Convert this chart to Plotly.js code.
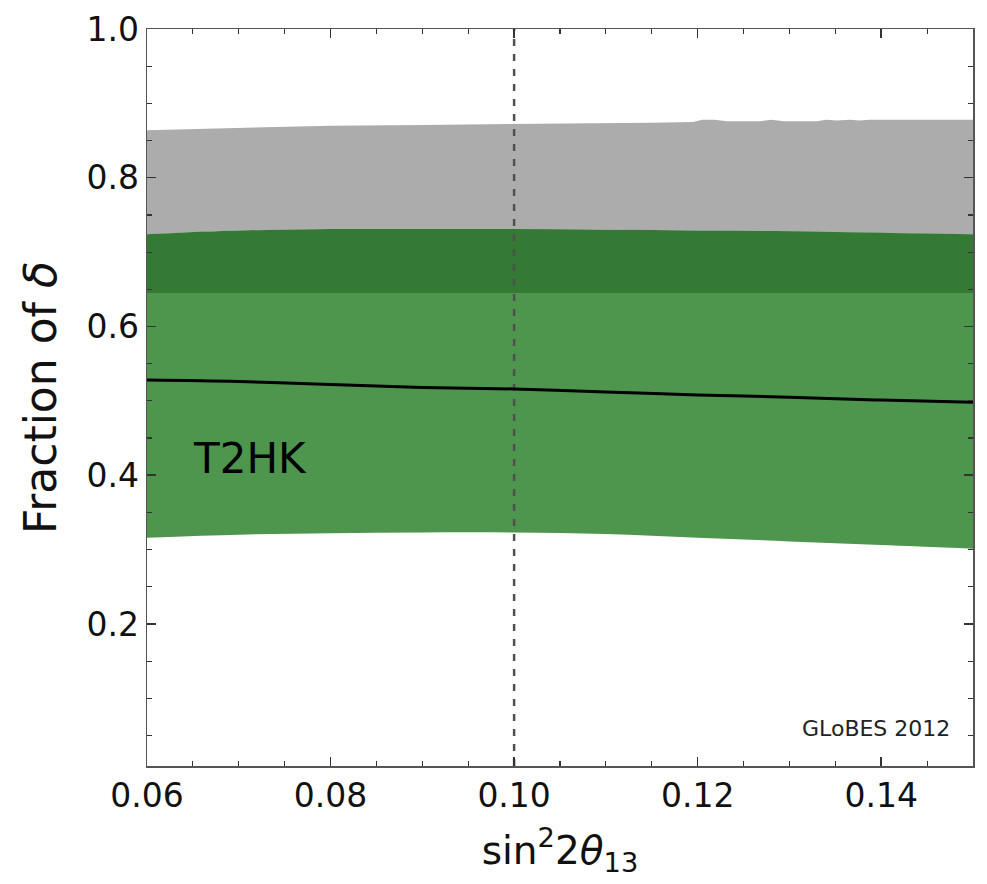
<!DOCTYPE html>
<html>
<head>
<meta charset="utf-8">
<script src="https://cdn.plot.ly/plotly-3.0.1.min.js"></script>
<style>html,body{margin:0;padding:0;background:#fff;}</style>
</head>
<body>
<div id="chart" style="width:987px;height:884px;"></div>
<script>
// sin^2 2theta13 grid
const xGrid = [0.06, 0.07, 0.08, 0.09, 0.10, 0.11, 0.12, 0.13, 0.14, 0.15];
// lower edge of the light green band
const lightBottom = [0.316, 0.320, 0.322, 0.323, 0.323, 0.321, 0.316, 0.311, 0.306, 0.301];
// upper edge of the light green band
const lightTop = [0.645, 0.645, 0.645, 0.645, 0.645, 0.645, 0.645, 0.645, 0.645, 0.645];
// upper edge of the dark green band
const darkTop = [0.724, 0.729, 0.731, 0.731, 0.731, 0.730, 0.729, 0.728, 0.726, 0.724];
// upper edge of the gray band (with its small wiggles)
const grayX = [0.06, 0.07, 0.08, 0.09, 0.10, 0.11, 0.115, 0.1195, 0.1205, 0.1218, 0.1232, 0.1268, 0.1280, 0.1294, 0.1330, 0.1340, 0.1352, 0.1366, 0.1376, 0.1388, 0.1400, 0.1410, 0.1422, 0.15];
const grayTop = [0.864, 0.867, 0.870, 0.871, 0.872, 0.873, 0.874, 0.875, 0.878, 0.878, 0.876, 0.876, 0.878, 0.876, 0.876, 0.878, 0.877, 0.878, 0.877, 0.878, 0.878, 0.879, 0.878, 0.878];
// central black curve
const centralLine = [0.528, 0.526, 0.522, 0.518, 0.516, 0.512, 0.508, 0.505, 0.501, 0.498];
// reference value of sin^2 2theta13
const refX = 0.10;
const xTicks = [0.06, 0.08, 0.10, 0.12, 0.14];
const yTicks = [0.2, 0.4, 0.6, 0.8, 1.0];
const xRange = [0.06, 0.15];
const yRange = [0.009, 1.0];
const labelText = "T2HK";
const labelPos = [0.0712, 0.422];
const creditText = "GLoBES 2012";
const creditPos = [0.1394, 0.060];

const FONT = "DejaVu Sans, Arial, sans-serif";

const grayPolyX = grayX.concat(xGrid.slice().reverse());
const grayPolyY = grayTop.concat(darkTop.slice().reverse());

const traces = [
  {x: grayPolyX, y: grayPolyY, type: 'scatter', mode: 'lines', fill: 'toself',
   fillcolor: 'rgb(172,172,172)', line: {width: 0, color: 'rgba(0,0,0,0)'},
   hoverinfo: 'skip', showlegend: false},
  {x: xGrid, y: lightBottom, type: 'scatter', mode: 'lines',
   line: {width: 0, color: 'rgba(0,0,0,0)', shape: 'spline'}, hoverinfo: 'skip', showlegend: false},
  {x: xGrid, y: lightTop, type: 'scatter', mode: 'lines', fill: 'tonexty',
   fillcolor: 'rgb(78,149,78)', line: {width: 0, color: 'rgba(0,0,0,0)'}, hoverinfo: 'skip', showlegend: false},
  {x: xGrid, y: darkTop, type: 'scatter', mode: 'lines', fill: 'tonexty',
   fillcolor: 'rgb(52,122,52)', line: {width: 0, color: 'rgba(0,0,0,0)', shape: 'spline'}, hoverinfo: 'skip', showlegend: false},
  {x: [refX, refX], y: yRange, type: 'scatter', mode: 'lines',
   line: {width: 2.5, color: 'rgb(80,80,80)', dash: '7px,8px'}, hoverinfo: 'skip', showlegend: false},
  {x: xGrid, y: centralLine, type: 'scatter', mode: 'lines', line: {width: 3, color: '#000', shape: 'spline'},
   hoverinfo: 'skip', showlegend: false}
];

const axisCommon = {
  showline: true, mirror: 'allticks', linecolor: '#555', linewidth: 1.5,
  ticks: 'inside', ticklen: 9, tickwidth: 1.5, tickcolor: '#333',
  showgrid: false, zeroline: false,
  tickfont: {family: FONT, size: 33, color: '#111'}
};

const layout = {
  width: 987, height: 884,
  margin: {l: 147, r: 14, t: 29, b: 118},
  paper_bgcolor: '#fff', plot_bgcolor: '#fff',
  xaxis: Object.assign({}, axisCommon, {
    range: xRange, tickvals: xTicks, tickformat: '.2f',
    minor: {tick0: 0.06, dtick: 0.005, ticks: 'inside', ticklen: 5, tickwidth: 1.2, tickcolor: '#333', showgrid: false},
    title: {text: 'sin<sup>2</sup>2<i>θ</i><sub>13</sub>', font: {family: FONT, size: 39, color: '#111'}, standoff: 22}
  }),
  yaxis: Object.assign({}, axisCommon, {
    range: yRange, tickvals: yTicks, tickformat: '.1f',
    minor: {tick0: 0, dtick: 0.05, ticks: 'inside', ticklen: 5, tickwidth: 1.2, tickcolor: '#333', showgrid: false},
    title: {text: 'Fraction of <i>δ</i>', font: {family: FONT, size: 44, color: '#111'}, standoff: 16}
  }),
  annotations: [
    {x: labelPos[0], y: labelPos[1], xref: 'x', yref: 'y', text: labelText, showarrow: false,
     font: {family: FONT, size: 42, color: '#000'}},
    {x: creditPos[0], y: creditPos[1], xref: 'x', yref: 'y', text: creditText, showarrow: false,
     font: {family: FONT, size: 22, color: '#222'}}
  ]
};

Plotly.newPlot('chart', traces, layout, {staticPlot: true, displayModeBar: false});
</script>
</body>
</html>
